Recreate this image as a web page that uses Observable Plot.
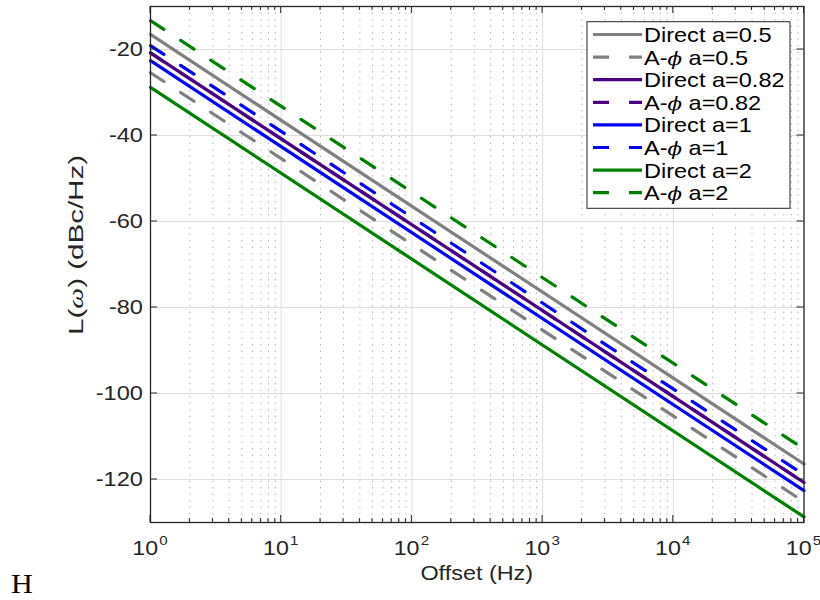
<!DOCTYPE html>
<html><head><meta charset="utf-8">
<script src="https://cdn.jsdelivr.net/npm/d3@7"></script>
<script src="https://cdn.jsdelivr.net/npm/@observablehq/plot@0.6"></script>
<style>body{margin:0;background:#fff;} svg{display:block;}</style>
</head><body><div id="chart"></div>
<script>
// ---- data ----
const seriesNames = ["Direct a=0.5", "A-ϕ a=0.5", "Direct a=0.82", "A-ϕ a=0.82", "Direct a=1", "A-ϕ a=1", "Direct a=2", "A-ϕ a=2"];
const seriesColors = ["#808080", "#808080", "#4b0082", "#4b0082", "#0000ff", "#0000ff", "#008000", "#008000"];
const seriesDashed = [false, true, false, true, false, true, false, true];
const offsetHz = [1, 100000];
const startValues = [-16.5, -25.4, -20.8, -20.8, -22.6, -19.1, -28.8, -13.3]; // L at 1 Hz
const endValues = [-116.4, -125.2, -120.7, -120.7, -122.6, -118.9, -128.7, -112.9]; // L at 1e5 Hz
const xDecades = [1, 10, 100, 1000, 10000, 100000];
const xExponents = ["0", "1", "2", "3", "4", "5"];
const minorMultipliers = [2, 3, 4, 5, 6, 7, 8, 9];
const yTicks = [-120, -100, -80, -60, -40, -20];
const xLabel = "Offset (Hz)";

const rows = seriesNames.flatMap((name, i) => [
  {series: name, f: offsetHz[0], L: startValues[i]},
  {series: name, f: offsetHz[1], L: endValues[i]}
]);
const minorTicks = xDecades.slice(0, -1).flatMap(d => minorMultipliers.map(m => m * d));

const lineMarks = seriesNames.map((name, i) =>
  Plot.line(rows.filter(r => r.series === name), {
    x: "f", y: "L", stroke: seriesColors[i], strokeWidth: 3.2,
    strokeDasharray: seriesDashed[i] ? "16,20" : undefined
  })
);

const chart = Plot.plot({
  width: 820, height: 600,
  marginLeft: 150, marginRight: 16.5, marginTop: 6, marginBottom: 78,
  x: {type: "log", domain: [1, 1e5], axis: null},
  y: {domain: [-130, -10], axis: null},
  style: {background: "white", fontFamily: "'Liberation Sans', Arial, sans-serif"},
  marks: [
    Plot.ruleX(minorTicks, {stroke: "#b5b5b5", strokeDasharray: "1.5,5"}),
    Plot.ruleX(xDecades, {stroke: "#dedede"}),
    Plot.ruleY(yTicks, {stroke: "#dedede"}),
    ...lineMarks,
    Plot.frame({stroke: "#262626", strokeWidth: 1.3})
  ]
});
document.getElementById("chart").append(chart);

const svg = d3.select(chart);
const xs = chart.scale("x"), ys = chart.scale("y");
const X = v => xs.apply(v), Y = v => ys.apply(v);
const x0 = X(1), x1 = X(1e5), yb = Y(-130), yt = Y(-10);

function stretch(sel, f) {
  sel.each(function() {
    const L = this.getComputedTextLength();
    this.setAttribute("textLength", L * f);
    this.setAttribute("lengthAdjust", "spacingAndGlyphs");
  });
}

// tick marks (inward, box style)
const tg = svg.append("g").attr("stroke", "#262626").attr("stroke-width", 1);
xDecades.forEach(v => {
  tg.append("line").attr("x1", X(v)).attr("x2", X(v)).attr("y1", yb).attr("y2", yb - 7);
  tg.append("line").attr("x1", X(v)).attr("x2", X(v)).attr("y1", yt).attr("y2", yt + 7);
});
minorTicks.forEach(v => {
  tg.append("line").attr("x1", X(v)).attr("x2", X(v)).attr("y1", yb).attr("y2", yb - 4);
  tg.append("line").attr("x1", X(v)).attr("x2", X(v)).attr("y1", yt).attr("y2", yt + 4);
});
yTicks.forEach(v => {
  tg.append("line").attr("x1", x0).attr("x2", x0 + 7).attr("y1", Y(v)).attr("y2", Y(v));
  tg.append("line").attr("x1", x1).attr("x2", x1 - 7).attr("y1", Y(v)).attr("y2", Y(v));
});

// y tick labels
const ylabs = svg.append("g").attr("font-size", 20).attr("fill", "#262626").attr("text-anchor", "end");
yTicks.forEach(v => {
  ylabs.append("text").attr("x", x0 - 7).attr("y", Y(v) + 7).text(String(v));
});
stretch(ylabs.selectAll("text"), 1.18);

// x tick labels: 10^n
const xlabs = svg.append("g").attr("font-size", 20).attr("fill", "#262626").attr("text-anchor", "middle");
xDecades.forEach((v, i) => {
  const t = xlabs.append("text").attr("x", X(v)).attr("y", 555).text("10");
  t.append("tspan").attr("font-size", 13).attr("dy", -10).attr("dx", 1).text(xExponents[i]);
});
stretch(xlabs.selectAll("text"), 1.2);

// axis titles
const xl = svg.append("text").attr("x", (x0 + x1) / 2).attr("y", 580).attr("text-anchor", "middle")
  .attr("font-size", 20).attr("fill", "#262626").text(xLabel);
stretch(xl, 1.17);

const yl = svg.append("text").attr("transform", "translate(83,245) rotate(-90)").attr("text-anchor", "middle")
  .attr("font-size", 20).attr("fill", "#262626");
yl.append("tspan").text("L(");
yl.append("tspan").attr("font-family", "'Liberation Serif', serif").attr("font-style", "italic").text("ω");
yl.append("tspan").text(") (dBc/Hz)");
yl.attr("textLength", 180).attr("lengthAdjust", "spacingAndGlyphs");

// legend
const lg = svg.append("g").attr("text-anchor", "start");
lg.append("rect").attr("x", 587).attr("y", 21.7).attr("width", 203).attr("height", 186.6)
  .attr("fill", "white").attr("stroke", "#262626").attr("stroke-width", 1);
seriesNames.forEach((name, i) => {
  const cy = 34.5 + 22.6 * i;
  lg.append("line").attr("x1", 593).attr("x2", 642).attr("y1", cy).attr("y2", cy)
    .attr("stroke", seriesColors[i]).attr("stroke-width", 3.2)
    .attr("stroke-dasharray", seriesDashed[i] ? "16,20" : null);
  const t = lg.append("text").attr("x", 644).attr("y", cy + 7.5).attr("font-size", 21).attr("fill", "#000");
  const parts = name.split("ϕ");
  parts.forEach((p, k) => {
    if (k > 0) t.append("tspan").attr("font-family", "'DejaVu Serif', serif").attr("font-style", "italic").attr("font-size", 19).text("ϕ");
    t.append("tspan").text(p);
  });
  stretch(t, 1.12);
});

// stray glyph at lower left
const hl = svg.append("text").attr("x", 11).attr("y", 593).attr("font-size", 27).attr("text-anchor", "start")
  .attr("font-family", "'Liberation Serif', 'Times New Roman', serif").attr("fill", "#000").text("H");
stretch(hl, 1.12);
</script>
</body></html>
